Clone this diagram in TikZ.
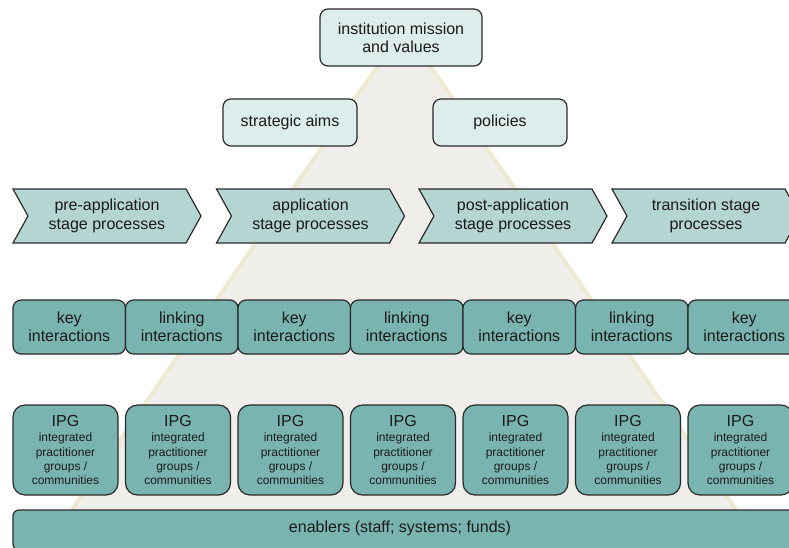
\documentclass[tikz,border=0pt]{standalone}
\usepackage{fontspec}
\setmainfont{Liberation Sans}
\usetikzlibrary{shapes.symbols}
\definecolor{palebox}{HTML}{DDEDEB}
\definecolor{stagefill}{HTML}{B5D5D2}
\definecolor{tealbox}{HTML}{7AB4B0}
\definecolor{pyramidfill}{HTML}{EFEEEA}
\definecolor{pyramidedge}{HTML}{EFE9D2}
\definecolor{edgecol}{HTML}{2A2A2A}
\definecolor{textcol}{HTML}{1A1A1A}
\begin{document}
\begin{tikzpicture}[x=1pt, y=-1pt,
    box/.style={draw=edgecol, line width=1.2pt, align=center, inner sep=0pt,
        text=textcol, font=\fontsize{16}{18.3}\selectfont},
    topbox/.style={box, fill=palebox, rounded corners=8pt},
    stagebox/.style={box, fill=stagefill, shape=signal, signal from=west,
        signal to=east, signal pointer angle=122, minimum width=188pt,
        minimum height=54pt},
    interbox/.style={box, fill=tealbox, rounded corners=8pt,
        minimum width=112.5pt, minimum height=54pt},
    ipgbox/.style={box, fill=tealbox, rounded corners=12pt,
        minimum width=105pt, minimum height=90pt,
        font=\fontsize{12}{14.2}\selectfont},
    basebox/.style={box, fill=tealbox, rounded corners=6pt,
        minimum width=787pt, minimum height=40pt}
]
    % frame and background pyramid
    \useasboundingbox (0,0) rectangle (789,547);
    \clip (0,0) rectangle (789,547);
    \fill[pyramidfill, draw=pyramidedge, line width=4pt] (404,28) -- (36,562) -- (772,562) -- cycle;
    % top of the hierarchy
    \node[topbox, minimum width=162pt, minimum height=57pt] (mission) at (401,37.5)
        {institution mission\\and values};
    \node[topbox, minimum width=134pt, minimum height=47pt] (aims) at (290,122.5)
        {strategic aims};
    \node[topbox, minimum width=134pt, minimum height=47pt] (policies) at (500,122.5)
        {policies};
    % stage processes
    \def\stagepos {107, 310.5, 513, 706};
    \foreach \sx [count=\index] in \stagepos
    {
        \coordinate (c_\index) at (\sx,216);
    }
    \foreach \lbl [count=\index] in {{pre-application\\stage processes},
        {application\\stage processes}, {post-application\\stage processes},
        {transition stage\\processes}}
    {
        \node[stagebox] (stage_\index) at (c_\index) {\lbl};
    }
    % interactions
    \foreach \lbl [count=\index] in {key,linking,key,linking,key,linking,key}
    {
        \node[interbox] (inter_\index) at ({69.25+112.5*(\index-1)},327)
            {\lbl\\interactions};
    }
    % practitioner groups
    \foreach \index in {1,...,7}
    {
        \node[ipgbox] (ipg_\index) at ({65.5+112.5*(\index-1)},450)
            {{\fontsize{16}{16}\selectfont IPG}\\[1pt]integrated\\practitioner\\groups /\\communities};
    }
    % enablers
    \node[basebox, minimum height=40pt] (enablers) at (406.5,530) {};
    \node[text=textcol, font=\fontsize{16}{18}\selectfont] (enablerstext) at (400,528)
        {enablers (staff; systems; funds)};
\end{tikzpicture}
\end{document}
